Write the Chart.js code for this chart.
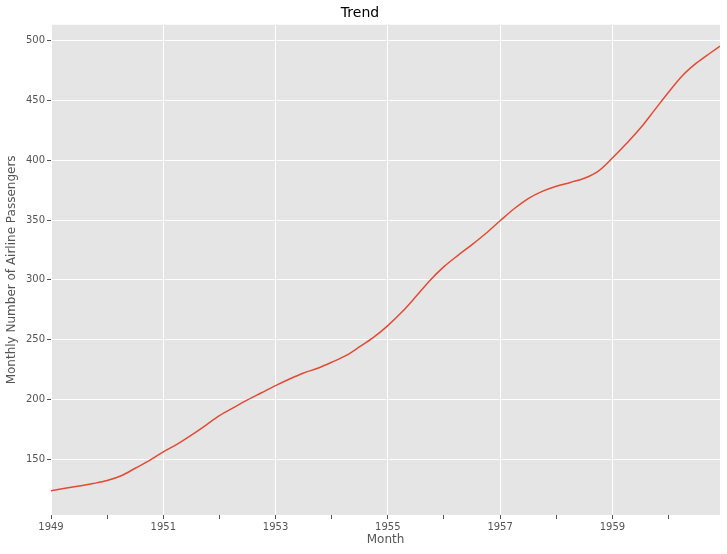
<!DOCTYPE html>
<html>
<head>
<meta charset="utf-8">
<script src="https://cdn.jsdelivr.net/npm/chart.js@4"></script>
<style>
  html, body { margin: 0; padding: 0; background: #ffffff; }
  #wrap { width: 727px; height: 554px; }
</style>
</head>
<body>
<div id="wrap"><canvas id="c" width="727" height="554"></canvas></div>
<script>
// Time (decimal year, quarterly) and trend values
const months = [
  1949.00, 1949.25, 1949.50, 1949.75,
  1950.00, 1950.25, 1950.50, 1950.75,
  1951.00, 1951.25, 1951.50, 1951.75,
  1952.00, 1952.25, 1952.50, 1952.75,
  1953.00, 1953.25, 1953.50, 1953.75,
  1954.00, 1954.25, 1954.50, 1954.75,
  1955.00, 1955.25, 1955.50, 1955.75,
  1956.00, 1956.25, 1956.50, 1956.75,
  1957.00, 1957.25, 1957.50, 1957.75,
  1958.00, 1958.25, 1958.50, 1958.75,
  1959.00, 1959.25, 1959.50, 1959.75,
  1960.00, 1960.25, 1960.50, 1960.75, 1960.9167
];
const trend = [
  123.5, 125.5, 127.5, 129.5,
  132.0, 136.0, 142.3, 148.7,
  156.0, 162.5, 170.0, 178.0,
  186.3, 193.0, 199.5, 205.5,
  211.5, 217.0, 222.0, 226.0,
  231.0, 236.5, 244.0, 252.0,
  261.7, 273.0, 286.0, 299.5,
  311.0, 320.5, 329.5, 339.0,
  349.4, 359.5, 368.0, 374.0,
  378.3, 381.5, 385.0, 391.0,
  401.9, 414.0, 427.0, 442.0,
  457.0, 471.0, 481.5, 490.0, 495.5
];
const yearTicks = [1949,1950,1951,1952,1953,1954,1955,1956,1957,1958,1959,1960];
const labeledYears = [1949,1951,1953,1955,1957,1959];
const yTicks = [150, 200, 250, 300, 350, 400, 450, 500];

const points = months.map((m, i) => ({ x: m, y: trend[i] }));

const bgPlugin = {
  id: 'plotBg',
  beforeDraw(chart) {
    const { ctx, chartArea: a } = chart;
    ctx.save();
    ctx.fillStyle = '#E5E5E5';
    ctx.fillRect(a.left, a.top, a.right - a.left, a.bottom - a.top);
    ctx.restore();
  }
};

new Chart(document.getElementById('c'), {
  type: 'line',
  data: {
    datasets: [{
      data: points,
      borderColor: '#E24A33',
      borderWidth: 1.5,
      pointRadius: 0,
      fill: false,
      cubicInterpolationMode: 'monotone'
    }]
  },
  options: {
    responsive: false,
    animation: false,
    layout: { padding: { left: 0, right: 7, top: 0, bottom: 0 } },
    plugins: {
      legend: { display: false },
      tooltip: { enabled: false },
      title: {
        display: true,
        text: 'Trend',
        color: '#000000',
        font: { family: 'DejaVu Sans', size: 14, weight: 'normal' },
        padding: { top: 5, bottom: 3 }
      }
    },
    scales: {
      x: {
        type: 'linear',
        min: 1949,
        max: 1960.9167,
        afterBuildTicks(scale) {
          scale.ticks = yearTicks.map(v => ({ value: v }));
        },
        afterFit(scale) { scale.height = 39; },
        border: { display: false },
        grid: {
          color: (c) => (labeledYears.includes(c.tick && c.tick.value) ? '#FFFFFF' : 'rgba(0,0,0,0)'),
          lineWidth: 1,
          tickColor: '#555555',
          tickLength: 4,
          drawTicks: true
        },
        ticks: {
          autoSkip: false,
          maxRotation: 0,
          padding: 2,
          color: '#555555',
          font: { family: 'DejaVu Sans', size: 10 },
          callback: (v) => (labeledYears.includes(v) ? String(v) : '')
        },
        title: {
          display: true,
          text: 'Month',
          color: '#555555',
          font: { family: 'DejaVu Sans', size: 12 },
          padding: { top: 0, bottom: 7 }
        }
      },
      y: {
        type: 'linear',
        min: 103.2,
        max: 513.4,
        afterBuildTicks(scale) {
          scale.ticks = yTicks.map(v => ({ value: v }));
        },
        afterFit(scale) { scale.width = 51; },
        border: { display: false },
        grid: {
          color: '#FFFFFF',
          lineWidth: 1,
          tickColor: '#555555',
          tickLength: 4
        },
        ticks: {
          padding: 2,
          color: '#555555',
          font: { family: 'DejaVu Sans', size: 10 }
        },
        title: {
          display: true,
          text: 'Monthly Number of Airline Passengers',
          color: '#555555',
          font: { family: 'DejaVu Sans', size: 12 },
          padding: { top: 5, bottom: 0 }
        }
      }
    }
  },
  plugins: [bgPlugin]
});
</script>
</body>
</html>
